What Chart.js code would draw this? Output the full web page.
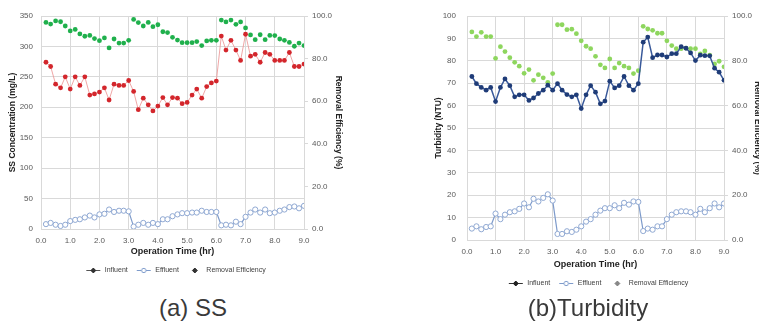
<!DOCTYPE html>
<html>
<head>
<meta charset="utf-8">
<script src="https://cdn.jsdelivr.net/npm/chart.js@4.4.0/dist/chart.umd.min.js"></script>
<style>
  html, body { margin: 0; padding: 0; background: #fff; }
  #wrap { position: relative; width: 759px; height: 321px; overflow: hidden; background: #fff; font-family: "Liberation Sans", Arial, sans-serif; }
  #ssChart { position: absolute; left: 0; top: 0; }
  #tuChart { position: absolute; left: 430px; top: 0; }
  .cap { position: absolute; width: 220px; text-align: center; font-size: 24px; line-height: 24px; color: #3a3a3a; top: 296px; }
</style>
</head>
<body>
<div id="wrap">
  <canvas id="ssChart" width="347" height="284"></canvas>
  <canvas id="tuChart" width="336" height="297"></canvas>
  <div class="cap" style="left:83px;">(a) SS</div>
  <div class="cap" style="left:478px;">(b)Turbidity</div>
</div>
<script>
// operation time (hr), one sample every 10 min
const times = [0.17, 0.33, 0.50, 0.67, 0.83, 1.00, 1.17, 1.33, 1.50, 1.67, 1.83, 2.00,
  2.17, 2.33, 2.50, 2.67, 2.83, 3.00, 3.17, 3.33, 3.50, 3.67, 3.83, 4.00,
  4.17, 4.33, 4.50, 4.67, 4.83, 5.00, 5.17, 5.33, 5.50, 5.67, 5.83, 6.00,
  6.17, 6.33, 6.50, 6.67, 6.83, 7.00, 7.17, 7.33, 7.50, 7.67, 7.83, 8.00,
  8.17, 8.33, 8.50, 8.67, 8.83, 9.00];

// (a) SS
const ssInfluent = [274, 267, 238, 232, 250, 230, 250, 236, 250, 220, 222, 225,
  232, 212, 238, 236, 236, 244, 226, 196, 215, 204, 194, 202,
  216, 204, 216, 215, 206, 208, 220, 230, 215, 234, 240, 243,
  317, 294, 310, 294, 277, 320, 284, 287, 274, 290, 287, 277,
  277, 277, 290, 267, 267, 271];
const ssEffluent = [8, 10, 7, 5, 7, 13, 15, 16, 19, 22, 19, 24,
  25, 32, 28, 30, 30, 29, 4, 7, 10, 7, 10, 8,
  16, 16, 21, 24, 26, 26, 27, 27, 30, 28, 28, 28,
  6, 7, 6, 12, 8, 20, 27, 32, 27, 32, 26, 27,
  30, 32, 36, 37, 34, 38];
const ssRemoval = [97.0, 96.2, 97.7, 97.3, 95.3, 93.0, 93.7, 91.6, 90.5, 90.9, 89.4, 88.4,
  89.7, 85.0, 89.2, 87.3, 87.3, 88.6, 98.4, 96.9, 95.3, 97.0, 95.0, 95.9,
  92.6, 92.2, 90.0, 88.7, 87.5, 87.5, 87.5, 88.0, 86.1, 88.3, 88.6, 88.6,
  98.1, 97.2, 98.1, 96.1, 97.2, 94.4, 91.1, 88.9, 91.2, 88.9, 90.9, 90.8,
  89.2, 88.6, 87.6, 85.8, 87.3, 86.1];

// (b) Turbidity
const tuInfluent = [73.0, 69.8, 68.1, 66.9, 68.1, 61.8, 68.1, 71.9, 68.9, 63.9, 64.8, 64.8,
  62.3, 63.4, 65.4, 66.9, 69.1, 66.9, 69.8, 66.9, 64.9, 63.9, 64.8, 58.7,
  64.8, 68.9, 66.0, 60.8, 62.0, 70.9, 67.9, 68.9, 73.0, 68.9, 66.9, 69.8,
  88.3, 90.6, 81.4, 82.6, 82.6, 81.7, 83.2, 83.2, 86.3, 85.6, 83.5, 80.1,
  82.5, 82.3, 82.2, 76.7, 74.9, 71.3];
const tuEffluent = [5.1, 6.1, 4.8, 5.8, 6.1, 11.8, 9.3, 11.3, 12.4, 12.8, 13.9, 16.3,
  14.6, 18.4, 17.2, 18.8, 20.4, 17.6, 2.7, 2.7, 3.9, 3.6, 4.6, 6.1,
  8.2, 9.3, 11.3, 13.1, 14.2, 14.2, 15.5, 14.2, 16.6, 15.8, 17.2, 17.0,
  4.0, 5.1, 4.6, 6.1, 6.1, 9.3, 11.3, 12.4, 12.8, 12.8, 12.4, 11.3,
  13.9, 12.4, 14.2, 16.3, 14.6, 16.3];
const tuRemoval = [92.9, 90.8, 92.7, 90.8, 90.8, 81.1, 86.3, 84.1, 81.4, 79.3, 77.6, 74.4,
  76.1, 71.3, 73.8, 72.4, 70.4, 74.3, 96.1, 96.1, 93.9, 94.1, 92.1, 88.9,
  86.5, 85.4, 82.0, 78.2, 76.8, 80.8, 76.8, 79.0, 77.6, 76.8, 74.3, 75.6,
  95.4, 94.2, 93.6, 92.3, 92.3, 88.9, 86.8, 85.4, 85.4, 85.7, 85.4, 85.4,
  83.1, 84.4, 82.5, 78.6, 79.8, 77.3];

const seriesNames = ["Influent", "Effluent", "Removal Efficiency"];

const FONT = "'Liberation Sans', Arial, sans-serif";
const GRID = "#d9d9d9";
const TICK = "#595959";

function pts(ys) {
  return ys.map((y, i) => ({ x: times[i], y: y }));
}

// small legend symbol: short line with a marker in the middle
function symbol(lineColor, fill, stroke, diamond) {
  const c = document.createElement("canvas");
  c.width = 16; c.height = 7;
  const g = c.getContext("2d");
  if (lineColor) {
    g.strokeStyle = lineColor; g.lineWidth = 1;
    g.beginPath(); g.moveTo(1, 3.5); g.lineTo(15, 3.5); g.stroke();
  }
  g.beginPath();
  if (diamond) {
    g.moveTo(8, 1); g.lineTo(10.5, 3.5); g.lineTo(8, 6); g.lineTo(5.5, 3.5); g.closePath();
  } else {
    g.arc(8, 3.5, 2.2, 0, Math.PI * 2);
  }
  g.fillStyle = fill; g.fill();
  g.strokeStyle = stroke; g.lineWidth = 1; g.stroke();
  return c;
}

function makeChart(id, cfg) {
  const syms = cfg.symbols;
  new Chart(document.getElementById(id), {
    type: "line",
    data: {
      datasets: [
        {
          label: seriesNames[0], data: pts(cfg.influent), yAxisID: "y",
          borderColor: cfg.inLine, borderWidth: cfg.inWidth, backgroundColor: cfg.inPoint,
          pointBackgroundColor: cfg.inPoint, pointBorderColor: cfg.inPoint,
          pointRadius: 2.4, pointBorderWidth: 0, tension: 0, order: 2
        },
        {
          label: seriesNames[1], data: pts(cfg.effluent), yAxisID: "y",
          borderColor: "#7e9bcb", borderWidth: 1.2, backgroundColor: "#ffffff",
          pointBackgroundColor: "#ffffff", pointBorderColor: "#8fa8d2",
          pointRadius: 2.6, pointBorderWidth: 1, tension: 0, order: 1
        },
        {
          label: seriesNames[2], data: pts(cfg.removal), yAxisID: "y1",
          showLine: false, backgroundColor: cfg.reColor,
          pointBackgroundColor: cfg.reColor, pointBorderColor: cfg.reColor,
          pointRadius: 2.4, pointBorderWidth: 0, order: 3
        }
      ]
    },
    options: {
      responsive: false,
      animation: false,
      layout: { padding: cfg.padding },
      plugins: {
        tooltip: { enabled: false },
        legend: {
          position: "bottom",
          labels: {
            usePointStyle: true, pointStyleWidth: 16, padding: 8,
            color: "#404040", font: { family: FONT, size: 7 },
            generateLabels: (chart) => chart.data.datasets.map((d, i) => ({
              text: d.label, pointStyle: syms[i], datasetIndex: i,
              fillStyle: "#fff", strokeStyle: "#fff", lineWidth: 0, fontColor: "#404040"
            }))
          }
        }
      },
      scales: {
        x: {
          type: "linear", min: 0, max: 9,
          grid: { color: GRID, drawTicks: false },
          border: { color: GRID },
          ticks: { stepSize: 1, padding: 7, color: TICK, font: { family: FONT, size: 8 },
            callback: (v) => v.toFixed(1) },
          title: { display: true, text: "Operation Time (hr)", color: "#222",
            font: { family: FONT, size: 9, weight: "bold" }, padding: { top: 0, bottom: 2 } },
          afterFit: (s) => { s.height = cfg.xHeight; }
        },
        y: {
          position: "left", min: 0, max: cfg.yMax,
          grid: { color: GRID, drawTicks: false },
          border: { color: GRID },
          ticks: { stepSize: cfg.yStep, padding: cfg.yPad, color: TICK, font: { family: FONT, size: 8 } },
          title: { display: true, text: cfg.yTitle, color: "#222",
            font: { family: FONT, size: 8.5, weight: "bold" }, padding: { top: 4, bottom: 0 } },
          afterFit: (s) => { s.width = cfg.yWidth; }
        },
        y1: {
          position: "right", min: 0, max: 100,
          grid: { drawOnChartArea: false, color: GRID, tickLength: 4 },
          border: { color: GRID },
          ticks: { stepSize: 20, padding: 4, color: TICK, font: { family: FONT, size: 8 },
            callback: (v) => v.toFixed(1) },
          title: { display: true, text: "Removal Efficiency (%)", color: "#222",
            font: { family: FONT, size: 8.5, weight: "bold" }, padding: { top: 4, bottom: 0 } },
          afterFit: (s) => { s.width = cfg.y1Width; }
        }
      }
    }
  });
}

makeChart("ssChart", {
  influent: ssInfluent, effluent: ssEffluent, removal: ssRemoval,
  inLine: "rgba(236,150,150,0.85)", inWidth: 1, inPoint: "#d3262c", reColor: "#1fb04c",
  yMax: 350, yStep: 50, yPad: 8, yTitle: "SS Concentration (mg/L)",
  yWidth: 37, y1Width: 43, xHeight: 30, padding: { top: 16, left: 4, right: 0, bottom: 0 },
  symbols: [symbol("#555", "#333", "#333", true), symbol("#7e9bcb", "#fff", "#7e9bcb"), symbol(null, "#333", "#333", true)]
});

makeChart("tuChart", {
  influent: tuInfluent, effluent: tuEffluent, removal: tuRemoval,
  inLine: "#39599a", inWidth: 1.5, inPoint: "#1f3c78", reColor: "#8ed65e",
  yMax: 100, yStep: 10, yPad: 11, yTitle: "Turbidity (NTU)",
  yWidth: 37, y1Width: 42, xHeight: 32, padding: { top: 16, left: 0, right: 0, bottom: 0 },
  symbols: [symbol("#333", "#222", "#222", true), symbol("#7e9bcb", "#fff", "#7e9bcb"), symbol(null, "#888", "#888", true)]
});
</script>
</body>
</html>
